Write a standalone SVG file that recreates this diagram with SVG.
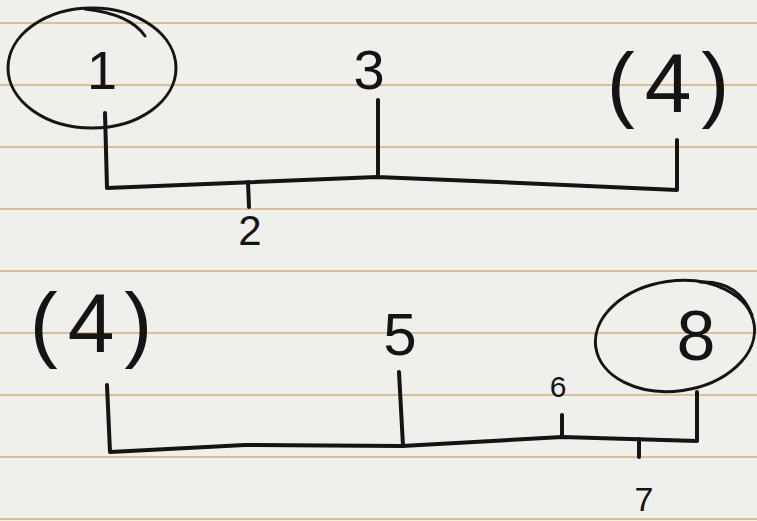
<svg xmlns="http://www.w3.org/2000/svg" width="757" height="521" viewBox="0 0 757 521">
<style>
.rule{stroke:#dcbf93;stroke-width:2;fill:none}
.ink{stroke:#141414;stroke-width:4;fill:none;stroke-linecap:round;stroke-linejoin:round}
.thin{stroke:#141414;stroke-width:3;fill:none;stroke-linecap:round}
.lbl{font-family:"Liberation Sans","DejaVu Sans",sans-serif;fill:#141414;text-anchor:middle}
</style>
<rect width="757" height="521" fill="#efefec"/>
<g id="paper-lines">
<line class="rule" x1="0" y1="23" x2="757" y2="23"/>
<line class="rule" x1="0" y1="85" x2="757" y2="85"/>
<line class="rule" x1="0" y1="147" x2="757" y2="147"/>
<line class="rule" x1="0" y1="209" x2="757" y2="209"/>
<line class="rule" x1="0" y1="271" x2="757" y2="271"/>
<line class="rule" x1="0" y1="333" x2="757" y2="333"/>
<line class="rule" x1="0" y1="395" x2="757" y2="395"/>
<line class="rule" x1="0" y1="457" x2="757" y2="457"/>
<line class="rule" x1="0" y1="519" x2="757" y2="519"/>
</g>
<g id="connectors">
<path class="ink" d="M105 113 L107 188 L377 177 L520 183 L677 190 L677 140"/>
<path class="ink" d="M378 100 L378 177"/>
<path class="ink" d="M248 182 L249 207"/>
<path class="ink" d="M107 385 L110 452 L245 445 L402 446 L562 437 L697 441 L697 392"/>
<path class="ink" d="M399 372 L403 446"/>
<path class="ink" d="M562 415 L562 437"/>
<path class="ink" d="M639 439 L639 457"/>
</g>
<g id="node1">
<ellipse class="thin" cx="92" cy="68" rx="84" ry="60"/>
<path class="thin" d="M85 9 Q130 14 145 36"/>
<text class="lbl" x="102" y="89" font-size="54">1</text>
</g>
<g id="node2"><text class="lbl" x="250" y="245" font-size="42">2</text></g>
<g id="node3"><text class="lbl" x="369" y="89" font-size="56">3</text></g>
<g id="node4-top"><text class="lbl" x="673" y="112" font-size="84" letter-spacing="10">(4)</text></g>
<g id="node4-bottom"><text class="lbl" x="96" y="352" font-size="84" letter-spacing="10">(4)</text></g>
<g id="node5"><text class="lbl" x="400" y="355" font-size="60">5</text></g>
<g id="node6"><text class="lbl" x="558" y="397" font-size="30">6</text></g>
<g id="node7"><text class="lbl" x="644" y="511" font-size="34">7</text></g>
<g id="node8">
<ellipse class="thin" cx="675" cy="336" rx="80" ry="55" transform="rotate(-8 675 336)"/>
<path class="thin" d="M700 282 Q738 280 752 315"/>
<text class="lbl" x="696" y="360" font-size="70">8</text>
</g>
</svg>
